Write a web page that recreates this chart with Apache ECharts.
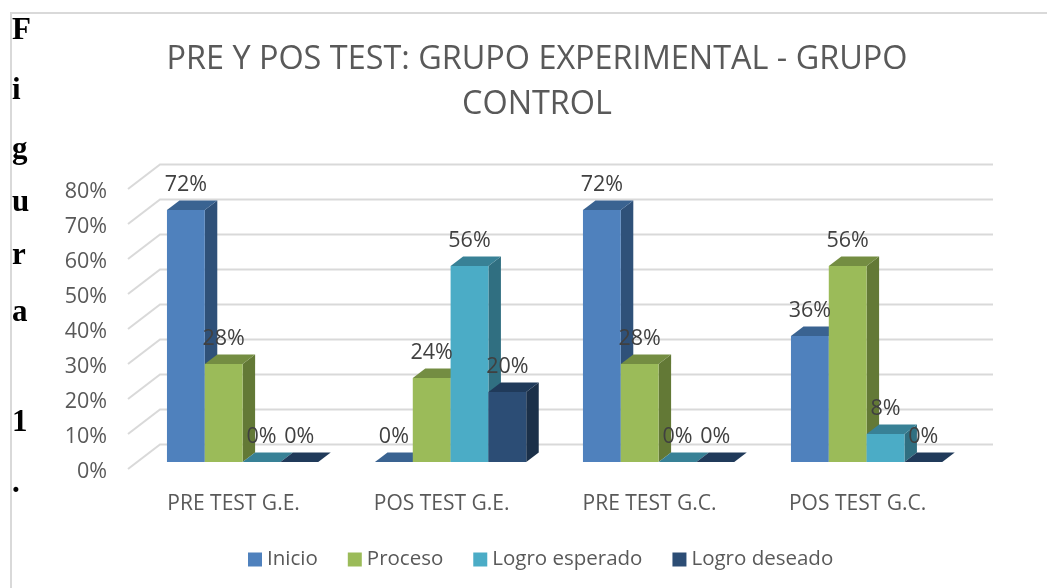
<!DOCTYPE html>
<html><head><meta charset="utf-8">
<style>html,body{margin:0;padding:0;background:#fff}#c{width:1047px;height:588px}</style>
<script src="https://cdn.jsdelivr.net/npm/echarts@6/dist/echarts.min.js"></script>
</head><body><div id="c"></div>
<script>
const categories = ['PRE TEST G.E.','POS TEST G.E.','PRE TEST G.C.','POS TEST G.C.'];
const inicio = [72,0,72,36];
const proceso = [28,24,28,56];
const logroEsperado = [0,56,0,8];
const logroDeseado = [0,20,0,0];
const yTicks = [0,10,20,30,40,50,60,70,80];
const titleLines = 'PRE Y POS TEST: GRUPO EXPERIMENTAL - GRUPO\nCONTROL';
const sideLetters = ['F','i','g','u','r','a','1','.'];
const sideLetterY = [33,93,152,205,258,315,425,486];

const palette = [
  {name:'Inicio', data:inicio, front:'#4F81BD', top:'#3A6391', side:'#2F5179'},
  {name:'Proceso', data:proceso, front:'#9BBB59', top:'#748D42', side:'#637936'},
  {name:'Logro esperado', data:logroEsperado, front:'#4BACC6', top:'#388196', side:'#306F81'},
  {name:'Logro deseado', data:logroDeseado, front:'#2C4D75', top:'#203A5A', side:'#1B3049'}
];
const DX = 12.5, DY = 9.5;

function barSeries(p, idx){
  return {
    name:p.name, type:'custom', coordinateSystem:'cartesian2d',
    itemStyle:{color:p.front},
    encode:{x:0,y:1},
    data:p.data.map((v,i)=>[i,v]),
    z:3,
    renderItem(params, api){
      const c = api.value(0), v = api.value(1);
      const base = api.coord([c,0]), topP = api.coord([c,v]);
      const band = api.size([1,0])[0];
      const w = band/5.5;
      const x0 = base[0] + (idx-2)*w, x1 = x0+w, y0 = base[1], y1 = topP[1];
      const children = [];
      children.push({type:'polygon',z2:idx*3+1,shape:{points:[[x1,y1],[x1+DX,y1-DY],[x1+DX,y0-DY],[x1,y0]]},style:{fill:p.side}});
      children.push({type:'polygon',z2:idx*3+2,shape:{points:[[x0,y1],[x0+DX,y1-DY],[x1+DX,y1-DY],[x1,y1]]},style:{fill:p.top}});
      if(v>0) children.push({type:'rect',z2:idx*3+3,shape:{x:x0,y:y1,width:w,height:y0-y1},style:{fill:p.front}});
      children.push({type:'text',z2:100,style:{text:v+'%',x:(x0+x1)/2,y:y1-25,align:'center',verticalAlign:'middle',fill:'#404040',font:'21.5px "Open Sans"'}});
      return {type:'group',children};
    }
  };
}

const wallSeries = {
  type:'custom', coordinateSystem:'cartesian2d', silent:true, z:1,
  data:yTicks.map(v=>[0,v]), encode:{x:0,y:1},
  legendHoverLink:false,
  renderItem(params, api){
    const y = api.coord([0,api.value(1)])[1];
    const cs = params.coordSys;
    const st = {stroke:'#D9D9D9',lineWidth:2,fill:'none'};
    return {type:'polyline',shape:{points:[[cs.x-10.6,y+7],[cs.x+21.4,y-17.5],[cs.x+854.4,y-17.5]]},style:st};
  }
};

const option = {
  animation:false,
  backgroundColor:'#fff',
  textStyle:{fontFamily:'"Open Sans"'},
  title:{text:titleLines,left:532,top:32,textAlign:'center',
    textStyle:{fontFamily:'"Open Sans"',fontSize:32.4,fontWeight:'normal',color:'#595959',lineHeight:45}},
  legend:{left:243,top:544,itemWidth:14,itemHeight:14,itemGap:30,icon:'rect',
    data:palette.map(p=>p.name),
    textStyle:{fontFamily:'"Open Sans"',fontSize:20.5,color:'#595959'}},
  grid:[
    {left:138.6,width:832,top:182,height:280},
    {left:128,width:832,top:192,height:280}
  ],
  xAxis:[
    {type:'category',data:categories,axisLine:{show:false},axisTick:{show:false},splitLine:{show:false},
     axisLabel:{color:'#595959',fontSize:21,margin:32,padding:[0,18,0,0],fontFamily:'"Open Sans"'}},
    {type:'category',gridIndex:1,data:categories,show:false}
  ],
  yAxis:[
    {type:'value',min:0,max:80,interval:10,axisLine:{show:false},axisTick:{show:false},splitLine:{show:false},axisLabel:{show:false}},
    {type:'value',gridIndex:1,min:0,max:80,interval:10,axisLine:{show:false},axisTick:{show:false},splitLine:{show:false},
     axisLabel:{formatter:'{value}%',color:'#595959',fontSize:21.5,margin:21,fontFamily:'"Open Sans"'}}
  ],
  graphic:{elements:[
    {type:'polyline',silent:true,shape:{points:[[11,588],[11,13],[1047,13]]},style:{stroke:'#D9D9D9',lineWidth:2,fill:'none'}},
    ...sideLetters.map((t,i)=>({type:'text',left:12,top:sideLetterY[i]-18,style:{text:t,fill:'#000',font:'bold 31px "Liberation Serif"'}}))
  ]},
  series:[wallSeries, ...palette.map(barSeries)]
};
echarts.init(document.getElementById('c'),null,{renderer:'canvas'}).setOption(option);
</script></body></html>
